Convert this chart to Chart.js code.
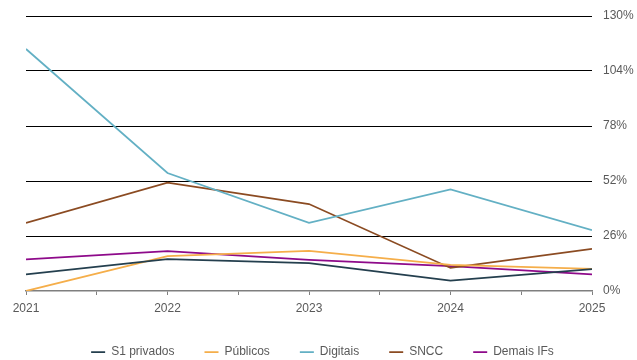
<!DOCTYPE html>
<html>
<head>
<meta charset="utf-8">
<script src="https://cdn.jsdelivr.net/npm/chart.js@4/dist/chart.umd.min.js"></script>
<style>
  html, body { margin: 0; padding: 0; background: #fff; }
  #wrap { width: 637px; height: 360px; }
</style>
</head>
<body>
<div id="wrap"><canvas id="chart"></canvas></div>
<script>
const years = [2021, 2022, 2023, 2024, 2025];
const s1Privados = [7.9, 15.1, 13.2, 4.9, 10.4];
const publicos = [0, 16.5, 19.0, 12.3, 10.4];
const digitais = [114.4, 55.8, 32.2, 48.0, 28.8];
const sncc = [32.2, 51.2, 41.1, 10.9, 19.9];
const demaisIFs = [15.0, 18.9, 14.7, 11.8, 7.9];
const yTicks = [0, 26, 52, 78, 104, 130];

const font = { family: "'Liberation Sans', Arial, sans-serif", size: 12 };
const textColor = "#595959";

function series(label, values, color) {
  return {
    label,
    data: years.map((y, i) => ({ x: y, y: values[i] })),
    borderColor: color,
    backgroundColor: color,
    borderWidth: 1.75,
    pointRadius: 0,
    tension: 0
  };
}

// legend: taller box so the items sit low, and nudged left a little
const legendPlace = {
  id: "legendPlace",
  beforeInit(chart) {
    const lg = chart.legend;
    if (!lg) return;
    const fit = lg.fit.bind(lg);
    lg.fit = function () { fit(); this.height = 44; };
  },
  afterLayout(chart) {
    const lg = chart.legend;
    if (!lg) return;
    lg.left -= 9;
    lg.right -= 9;
  }
};

new Chart(document.getElementById("chart"), {
  type: "line",
  data: {
    datasets: [
      series("S1 privados", s1Privados, "#243f4e"),
      series("Públicos", publicos, "#f5ae4a"),
      series("Digitais", digitais, "#63b0c4"),
      series("SNCC", sncc, "#8b4b22"),
      series("Demais IFs", demaisIFs, "#8e0a8a")
    ]
  },
  plugins: [legendPlace],
  options: {
    responsive: true,
    maintainAspectRatio: false,
    animation: false,
    layout: { padding: { left: 26, right: 0, top: 16, bottom: 0 } },
    scales: {
      x: {
        type: "linear",
        min: years[0],
        max: years[years.length - 1],
        afterFit: axis => { axis.height = 25; },
        ticks: {
          stepSize: 0.5,
          autoSkip: false,
          maxRotation: 0,
          padding: 6,
          color: textColor,
          font,
          callback: v => Number.isInteger(v) ? String(v) : ""
        },
        grid: { drawOnChartArea: false, drawTicks: true, tickLength: 4, color: "#7f7f7f", lineWidth: 1 },
        border: { color: "#7f7f7f", width: 1.5 }
      },
      y: {
        position: "right",
        min: yTicks[0],
        max: yTicks[yTicks.length - 1],
        afterBuildTicks: axis => { axis.ticks = yTicks.map(v => ({ value: v })); },
        afterFit: axis => { axis.width = 45; },
        ticks: { padding: 0, color: textColor, font, callback: v => v + "%" },
        grid: {
          drawTicks: true,
          tickLength: 11,
          tickColor: "rgba(0,0,0,0)",
          color: c => c.tick && c.tick.value === 0 ? "rgba(0,0,0,0)" : "#000",
          lineWidth: 1
        },
        border: { display: false }
      }
    },
    plugins: {
      legend: {
        position: "bottom",
        labels: { boxWidth: 14, boxHeight: 0, padding: 30, color: textColor, font }
      },
      tooltip: { enabled: false }
    }
  }
});
</script>
</body>
</html>
